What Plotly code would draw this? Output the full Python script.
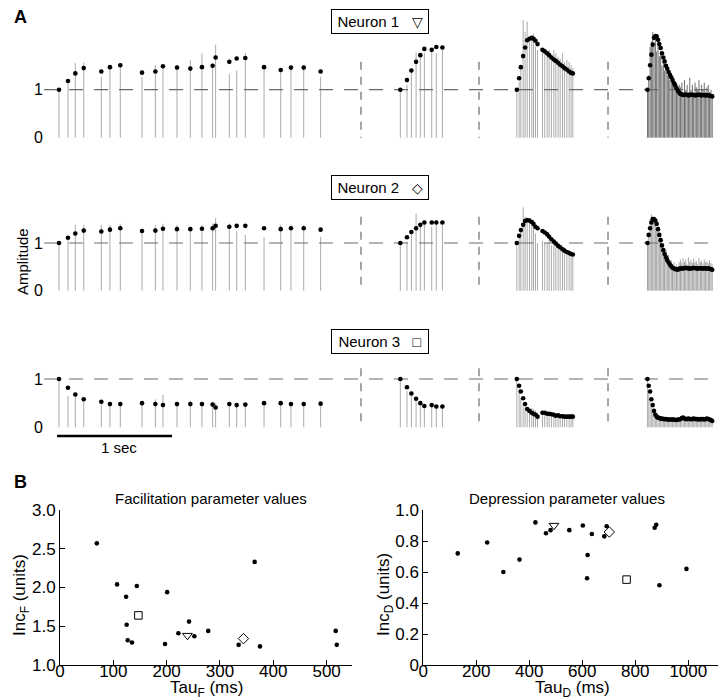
import plotly.graph_objects as go

W, H = 720, 700
FONT = "Liberation Sans, Arial, Helvetica, sans-serif"

# ---------------- Panel A data ----------------
seg_onset_ms = [0, 2968, 3981, 5117]
separator_ms = [2626, 3652, 4774]

t_seg1 = [0, 78, 142, 215, 368, 443, 533, 722, 838, 904, 1026, 1142, 1243, 1336, 1362,
          1481, 1545, 1620, 1783, 1928, 2017, 2128, 2275]
t_seg2 = [0, 58, 96, 137, 174, 209, 273, 313, 366]
t_seg3 = [0, 20, 35, 55, 72, 90, 110, 130, 145, 162, 180, 223, 243, 264, 281, 301, 322,
          339, 359, 377, 397, 414, 435, 455, 472, 487]
t_seg4 = [0, 11, 23, 34, 46, 57, 69, 80, 92, 103, 115, 126, 138, 149, 161, 172, 184, 195,
          207, 218, 230, 241, 253, 264, 276, 287, 299, 310, 322, 333, 345, 356, 368, 379,
          391, 402, 414, 425, 437, 448, 460, 471, 483, 494, 506, 517, 529, 540, 552, 563]

# Neuron 1
n1_s1_dots = [1.00, 1.18, 1.34, 1.45, 1.38, 1.47, 1.51, 1.355, 1.38, 1.49, 1.46, 1.44, 1.47,
              1.50, 1.67, 1.58, 1.65, 1.66, 1.47, 1.41, 1.46, 1.46, 1.38]
n1_s1_stems = [1.00, 1.20, 1.56, 1.57, 1.27, 1.51, 1.55, 1.27, 1.51, 1.51, 1.41, 1.62, 1.76,
               1.55, 1.94, 1.33, 1.40, 1.77, 1.51, 1.41, 1.47, 1.47, 1.27]
n1_s2_dots = [1.00, 1.20, 1.40, 1.58, 1.72, 1.85, 1.83, 1.89, 1.88]
n1_s2_stems = [1.00, 1.10, 1.41, 1.77, 1.69, 1.77, 1.83, 1.76, 1.83]
n1_s3_dots = [1.00, 1.24, 1.47, 1.70, 1.88, 2.03, 2.06, 2.08, 2.06, 2.02, 1.95, 1.83, 1.80,
              1.76, 1.72, 1.67, 1.63, 1.60, 1.56, 1.52, 1.49, 1.45, 1.42, 1.38, 1.35, 1.34]
n1_s3_stems = [1.00, 1.17, 1.48, 2.45, 2.21, 2.42, 2.10, 2.03, 2.17, 1.90, 1.83, 1.83, 1.86,
               1.79, 1.83, 1.72, 1.83, 1.76, 1.69, 1.65, 1.76, 1.58, 1.62, 1.58, 1.51, 1.45]
n1_s4_dots = [1.00, 1.24, 1.51, 1.73, 1.94, 2.08, 2.12, 2.11, 2.04, 1.95, 1.87, 1.76, 1.67,
              1.59, 1.50, 1.44, 1.37, 1.31, 1.26, 1.20, 1.14, 1.09, 1.03, 0.98, 0.94, 0.91,
              0.90, 0.89, 0.89, 0.90, 0.89, 0.88, 0.89, 0.90, 0.89, 0.89, 0.88, 0.89, 0.89,
              0.90, 0.89, 0.88, 0.89, 0.89, 0.88, 0.89, 0.88, 0.88, 0.87, 0.86]
n1_s4_stems = [1.00, 1.30, 1.90, 2.00, 2.20, 1.90, 2.10, 1.80, 2.00, 1.70, 1.80, 1.50, 1.60,
               1.40, 1.50, 1.30, 1.35, 1.20, 1.25, 1.15, 1.10, 1.05, 1.15, 1.00, 1.10, 1.05,
               1.15, 0.95, 1.20, 1.00, 1.10, 0.95, 1.25, 1.00, 1.10, 0.95, 1.15, 1.05, 1.00,
               1.20, 0.95, 1.10, 1.00, 1.15, 0.95, 1.05, 1.10, 0.95, 1.00, 0.90]

# Neuron 2
n2_s1_dots = [1.00, 1.11, 1.20, 1.26, 1.24, 1.28, 1.31, 1.25, 1.26, 1.30, 1.29, 1.29, 1.30,
              1.31, 1.36, 1.34, 1.36, 1.36, 1.31, 1.29, 1.31, 1.31, 1.28]
n2_s1_stems = [1.00, 1.06, 1.38, 1.38, 1.38, 1.38, 1.40, 1.27, 1.37, 1.40, 1.38, 1.34, 1.38,
               1.41, 1.52, 1.41, 1.24, 1.17, 1.12, 1.38, 1.38, 1.38, 1.13]
n2_s2_dots = [1.00, 1.12, 1.23, 1.31, 1.38, 1.43, 1.43, 1.43, 1.43]
n2_s2_stems = [1.00, 1.03, 1.20, 1.62, 1.34, 1.41, 1.34, 1.48, 1.38]
n2_s3_dots = [1.00, 1.15, 1.27, 1.38, 1.46, 1.48, 1.47, 1.44, 1.40, 1.34, 1.31, 1.25, 1.22,
              1.18, 1.13, 1.08, 1.03, 0.99, 0.94, 0.91, 0.87, 0.84, 0.81, 0.79, 0.77, 0.76]
n2_s3_stems = [1.00, 1.10, 1.30, 1.75, 1.55, 1.50, 1.45, 1.40, 1.35, 1.20, 1.00, 1.05, 1.00,
               1.00, 1.05, 0.95, 1.00, 0.95, 0.90, 0.92, 0.88, 0.90, 0.85, 0.85, 0.80, 0.80]
n2_s4_dots = [1.00, 1.17, 1.31, 1.43, 1.50, 1.50, 1.47, 1.40, 1.29, 1.17, 1.06, 0.95, 0.85,
              0.77, 0.70, 0.64, 0.59, 0.55, 0.51, 0.48, 0.47, 0.45, 0.45, 0.44, 0.46, 0.47,
              0.46, 0.47, 0.47, 0.48, 0.47, 0.47, 0.46, 0.47, 0.47, 0.48, 0.47, 0.47, 0.46,
              0.47, 0.47, 0.47, 0.46, 0.47, 0.47, 0.46, 0.47, 0.46, 0.45, 0.44]
n2_s4_stems = [1.00, 1.20, 1.50, 1.60, 1.55, 1.45, 1.50, 1.30, 1.35, 1.10, 1.15, 0.95, 0.90,
               0.80, 0.85, 0.70, 0.75, 0.60, 0.65, 0.55, 0.60, 0.50, 0.55, 0.50, 0.60, 0.65,
               0.58, 0.68, 0.60, 0.66, 0.55, 0.70, 0.60, 0.64, 0.58, 0.67, 0.60, 0.62, 0.56,
               0.68, 0.60, 0.63, 0.57, 0.66, 0.60, 0.62, 0.58, 0.64, 0.58, 0.55]

# Neuron 3
n3_s1_dots = [1.00, 0.82, 0.68, 0.58, 0.53, 0.48, 0.48, 0.50, 0.48, 0.46, 0.48, 0.48, 0.48,
              0.47, 0.41, 0.48, 0.46, 0.47, 0.50, 0.50, 0.48, 0.48, 0.49]
n3_s1_stems = [1.00, 0.65, 0.70, 0.60, 0.50, 0.53, 0.50, 0.53, 0.58, 0.67, 0.50, 0.55, 0.50,
               0.53, 0.50, 0.46, 0.46, 0.50, 0.50, 0.50, 0.48, 0.48, 0.48]
n3_s2_dots = [1.00, 0.83, 0.70, 0.59, 0.50, 0.44, 0.46, 0.43, 0.43]
n3_s2_stems = [1.00, 0.75, 0.65, 0.55, 0.45, 0.45, 0.45, 0.40, 0.42]
n3_s3_dots = [1.00, 0.86, 0.74, 0.60, 0.48, 0.38, 0.34, 0.30, 0.28, 0.26, 0.22, 0.30, 0.30,
              0.28, 0.28, 0.27, 0.26, 0.24, 0.25, 0.23, 0.23, 0.22, 0.22, 0.22, 0.22, 0.22]
n3_s3_stems = [1.00, 0.80, 0.60, 0.50, 0.40, 0.35, 0.35, 0.40, 0.38, 0.35, 0.30, 0.35, 0.30,
               0.33, 0.30, 0.28, 0.30, 0.27, 0.27, 0.25, 0.27, 0.24, 0.25, 0.23, 0.25, 0.22]
n3_s4_dots = [1.00, 0.86, 0.74, 0.58, 0.46, 0.34, 0.26, 0.22, 0.20, 0.19, 0.18, 0.18, 0.17,
              0.17, 0.17, 0.16, 0.16, 0.16, 0.16, 0.16, 0.16, 0.15, 0.15, 0.16, 0.16, 0.17,
              0.19, 0.20, 0.18, 0.17, 0.17, 0.18, 0.17, 0.17, 0.17, 0.18, 0.17, 0.17, 0.17,
              0.16, 0.17, 0.17, 0.17, 0.16, 0.17, 0.18, 0.17, 0.16, 0.15, 0.13]
n3_s4_stems = [1.00, 0.70, 0.55, 0.45, 0.38, 0.30, 0.28, 0.25, 0.22, 0.20, 0.20, 0.18, 0.17,
               0.15, 0.18, 0.14, 0.16, 0.13, 0.15, 0.14, 0.16, 0.13, 0.15, 0.17, 0.18, 0.20,
               0.22, 0.18, 0.16, 0.20, 0.15, 0.18, 0.16, 0.20, 0.15, 0.17, 0.19, 0.15, 0.18,
               0.16, 0.20, 0.15, 0.17, 0.19, 0.16, 0.18, 0.20, 0.15, 0.17, 0.14]

neuron_labels = ["Neuron 1", "Neuron 2", "Neuron 3"]
neuron_symbols = ["\u25BD", "\u25C7", "\u25A1"]

# ---------------- Panel B data ----------------
fac_tau = [69, 107, 144, 124, 201, 365, 125, 127, 135, 197, 222, 242, 252, 278, 335, 375, 517, 519]
fac_inc = [2.57, 2.04, 2.02, 1.88, 1.94, 2.33, 1.52, 1.32, 1.29, 1.27, 1.41, 1.56, 1.37,
           1.44, 1.26, 1.24, 1.44, 1.26]
fac_tau_n = [239, 344, 147]      # neuron 1, 2, 3
fac_inc_n = [1.38, 1.34, 1.64]

dep_tau = [130, 241, 302, 363, 423, 463, 480, 551, 602, 620, 618, 636, 683, 692, 873, 879, 891, 993]
dep_inc = [0.72, 0.79, 0.60, 0.68, 0.92, 0.85, 0.87, 0.87, 0.90, 0.71, 0.56, 0.845, 0.83,
           0.895, 0.885, 0.905, 0.515, 0.62]
dep_tau_n = [493, 702, 767]
dep_inc_n = [0.90, 0.858, 0.551]

fac_xticks = [0, 100, 200, 300, 400, 500]
fac_yticks = [1.0, 1.5, 2.0, 2.5, 3.0]
dep_xticks = [0, 200, 400, 600, 800, 1000]
dep_yticks = [0, 0.2, 0.4, 0.6, 0.8, 1.0]

# ---------------- geometry helpers ----------------
X0_PX, PX_PER_MS = 59.0, 0.115


def px2ms(px):
    return (px - X0_PX) / PX_PER_MS


def ydom(zero_px, ppu, lo, hi):
    bottom_px = zero_px - lo * ppu
    top_px = zero_px - hi * ppu
    return [(H - bottom_px) / H, (H - top_px) / H]


rows = [
    dict(zero=137.7, ppu=48.0, lo=-0.15, hi=2.6, sep_top=1.58, box_y=21.5,
         dots=[n1_s1_dots, n1_s2_dots, n1_s3_dots, n1_s4_dots],
         stems=[n1_s1_stems, n1_s2_stems, n1_s3_stems, n1_s4_stems],
         s4color="#6f6f6f"),
    dict(zero=290.7, ppu=47.7, lo=-0.15, hi=2.0, sep_top=1.55, box_y=187.5,
         dots=[n2_s1_dots, n2_s2_dots, n2_s3_dots, n2_s4_dots],
         stems=[n2_s1_stems, n2_s2_stems, n2_s3_stems, n2_s4_stems],
         s4color="#a4a4a4"),
    dict(zero=427.3, ppu=48.3, lo=-0.2, hi=1.3, sep_top=1.22, box_y=341.5,
         dots=[n3_s1_dots, n3_s2_dots, n3_s3_dots, n3_s4_dots],
         stems=[n3_s1_stems, n3_s2_stems, n3_s3_stems, n3_s4_stems],
         s4color="#b0b0b0"),
]
seg_times = [t_seg1, t_seg2, t_seg3, t_seg4]

fig = go.Figure()
x_lo, x_hi = px2ms(44), px2ms(720)
line_end = px2ms(715)

annotations = []
shapes = []
layout_axes = {}

for ri, row in enumerate(rows):
    yname = "y" if ri == 0 else f"y{ri + 1}"
    # stems
    for si in range(4):
        xs, ys = [], []
        for t, h in zip(seg_times[si], row["stems"][si]):
            xs += [seg_onset_ms[si] + t, seg_onset_ms[si] + t, None]
            ys += [0, h, None]
        col = row["s4color"] if si == 3 else "#ababab"
        fig.add_trace(go.Scatter(x=xs, y=ys, mode="lines", xaxis="x", yaxis=yname,
                                 line=dict(color=col, width=1), hoverinfo="skip",
                                 showlegend=False))
    # dashed reference line at 1
    fig.add_trace(go.Scatter(x=[x_lo, line_end], y=[1, 1], mode="lines", xaxis="x", yaxis=yname,
                             line=dict(color="#6a6a6a", width=1.2, dash="14px,11px"),
                             hoverinfo="skip", showlegend=False))
    # vertical separators
    for sx in separator_ms:
        fig.add_trace(go.Scatter(x=[sx, sx], y=[row["sep_top"], 0], mode="lines", xaxis="x",
                                 yaxis=yname,
                                 line=dict(color="#6a6a6a", width=1.2, dash="8px,7px"),
                                 hoverinfo="skip", showlegend=False))
    # dots
    for si in range(4):
        fig.add_trace(go.Scatter(x=[seg_onset_ms[si] + t for t in seg_times[si]],
                                 y=row["dots"][si], mode="markers", xaxis="x", yaxis=yname,
                                 marker=dict(color="black", size=4.6),
                                 hoverinfo="skip", showlegend=False))
    key = "yaxis" if ri == 0 else f"yaxis{ri + 1}"
    layout_axes[key] = dict(domain=ydom(row["zero"], row["ppu"], row["lo"], row["hi"]),
                            range=[row["lo"], row["hi"]], anchor="x", automargin=False,
                            tickvals=[0, 1], ticktext=["0", "1"], ticks="",
                            showgrid=False, zeroline=False, showline=False,
                            tickfont=dict(size=16, color="black", family=FONT))
    # neuron label box
    annotations.append(dict(
        xref="paper", yref="paper", x=380 / W, y=(H - row["box_y"]) / H,
        xanchor="center", yanchor="middle", showarrow=False,
        text=neuron_labels[ri] + "\u00a0\u00a0\u00a0<span style='font-size:14px'>" +
        neuron_symbols[ri] + "</span>",
        font=dict(size=15, color="black", family=FONT),
        bordercolor="black", borderwidth=1, borderpad=3, bgcolor="white",
        width=90, height=17, align="center"))

layout_axes["xaxis"] = dict(domain=[44 / W, 1.0], range=[x_lo, x_hi], visible=False,
                            anchor="y", automargin=False)

# scale bar (1 sec)
shapes.append(dict(type="line", xref="x", yref="paper", x0=-17, x1=-17 + 1000,
                   y0=(H - 436) / H, y1=(H - 436) / H, line=dict(color="black", width=2.5)))
annotations.append(dict(xref="paper", yref="paper", x=119 / W, y=(H - 447) / H,
                        xanchor="center", yanchor="middle", showarrow=False, text="1 sec",
                        font=dict(size=15, color="black", family=FONT)))
annotations.append(dict(xref="paper", yref="paper", x=22 / W, y=(H - 262) / H,
                        xanchor="center", yanchor="middle", showarrow=False,
                        text="Amplitude", textangle=-90,
                        font=dict(size=15, color="black", family=FONT)))
annotations.append(dict(xref="paper", yref="paper", x=20 / W, y=(H - 17) / H,
                        xanchor="center", yanchor="middle", showarrow=False, text="<b>A</b>",
                        font=dict(size=18, color="black", family=FONT)))
annotations.append(dict(xref="paper", yref="paper", x=20 / W, y=(H - 482) / H,
                        xanchor="center", yanchor="middle", showarrow=False, text="<b>B</b>",
                        font=dict(size=18, color="black", family=FONT)))

# ---------------- Panel B ----------------
fig.add_trace(go.Scatter(x=fac_tau, y=fac_inc, mode="markers", xaxis="x2", yaxis="y4",
                         marker=dict(color="black", size=4.6), showlegend=False))
fig.add_trace(go.Scatter(x=dep_tau, y=dep_inc, mode="markers", xaxis="x3", yaxis="y5",
                         marker=dict(color="black", size=4.6), showlegend=False))
open_syms = ["triangle-down-open", "diamond-open", "square-open"]
open_sizes = [8.5, 8, 7.5]
for i in range(3):
    fig.add_trace(go.Scatter(x=[fac_tau_n[i]], y=[fac_inc_n[i]], mode="markers", xaxis="x2",
                             yaxis="y4", showlegend=False,
                             marker=dict(symbol=open_syms[i], size=open_sizes[i], color="black",
                                         line=dict(width=1, color="black"))))
    fig.add_trace(go.Scatter(x=[dep_tau_n[i]], y=[dep_inc_n[i]], mode="markers", xaxis="x3",
                             yaxis="y5", showlegend=False,
                             marker=dict(symbol=open_syms[i], size=open_sizes[i], color="black",
                                         line=dict(width=1, color="black"))))

bdom = [(H - 665) / H, (H - 510) / H]
ax_common = dict(showgrid=False, zeroline=False, showline=True, linecolor="black",
                 linewidth=1, ticks="inside", ticklen=5, tickcolor="black", automargin=False,
                 tickfont=dict(size=17, color="black", family=FONT))
layout_axes["xaxis2"] = dict(domain=[60 / W, 351.7 / W], range=[0, 547], anchor="y4",
                             tickvals=fac_xticks, ticklabelstandoff=-9, **ax_common)
layout_axes["yaxis4"] = dict(domain=bdom, range=[1.0, 3.0], anchor="x2",
                             tickvals=fac_yticks, ticktext=[f"{v:.1f}" for v in fac_yticks],
                             **ax_common)
layout_axes["xaxis3"] = dict(domain=[423.3 / W, 718 / W], range=[0, 1112], anchor="y5",
                             tickvals=dep_xticks, ticklabelstandoff=-9, **ax_common)
layout_axes["yaxis5"] = dict(domain=bdom, range=[0, 1.0], anchor="x3",
                             tickvals=dep_yticks,
                             ticktext=["0"] + [f"{v:.1f}" for v in dep_yticks[1:]],
                             **ax_common)

for txt, x in [("Facilitation parameter values", 211), ("Depression parameter values", 567)]:
    annotations.append(dict(xref="paper", yref="paper", x=x / W, y=(H - 498) / H,
                            xanchor="center", yanchor="middle", showarrow=False, text=txt,
                            font=dict(size=15, color="black", family=FONT)))
for txt, x in [("Tau<sub>F</sub> (ms)", 207), ("Tau<sub>D</sub> (ms)", 572)]:
    annotations.append(dict(xref="paper", yref="paper", x=x / W, y=(H - 689) / H,
                            xanchor="center", yanchor="middle", showarrow=False, text=txt,
                            font=dict(size=17, color="black", family=FONT)))
for txt, x in [("Inc<sub>F</sub> (units)", 21), ("Inc<sub>D</sub> (units)", 385)]:
    annotations.append(dict(xref="paper", yref="paper", x=x / W, y=(H - 595) / H,
                            xanchor="center", yanchor="middle", showarrow=False, text=txt,
                            textangle=-90,
                            font=dict(size=17, color="black", family=FONT)))

fig.update_layout(width=W, height=H, margin=dict(l=0, r=0, t=0, b=0),
                  paper_bgcolor="white", plot_bgcolor="white",
                  font=dict(family=FONT, color="black"),
                  annotations=annotations, shapes=shapes, showlegend=False,
                  **layout_axes)

fig.write_html("out.html", config={"displayModeBar": False},
               post_script="document.body.style.margin='0';document.body.style.overflow='hidden';")
